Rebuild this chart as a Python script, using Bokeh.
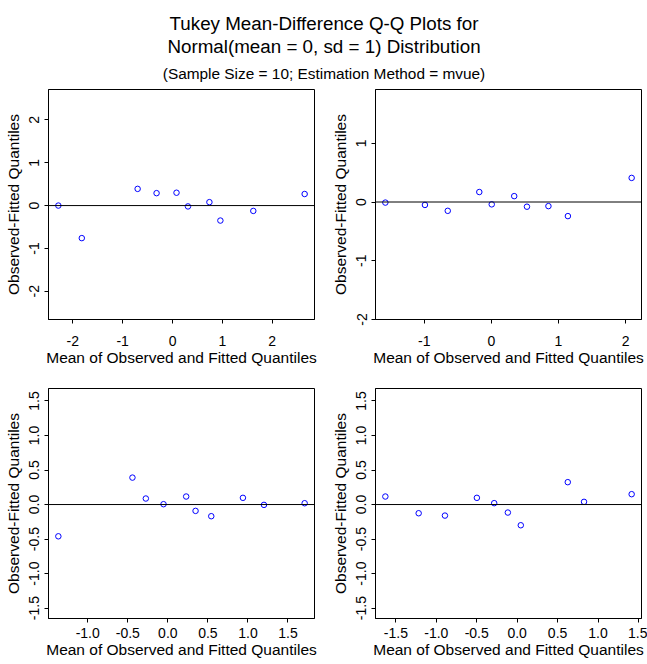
from bokeh.plotting import figure
from bokeh.models import Range1d, FixedTicker, Span, Label
from bokeh.layouts import column, row
from bokeh.embed import file_html
from bokeh.resources import INLINE

FONT = "Liberation Sans"

title_lines = ["Tukey Mean-Difference Q-Q Plots for",
               "Normal(mean = 0, sd = 1) Distribution"]
subtitle = "(Sample Size = 10; Estimation Method = mvue)"
x_label = "Mean of Observed and Fitted Quantiles"
y_label = "Observed-Fitted Quantiles"

# Mean of observed and fitted quantiles (x) and their difference (y), one pair per panel
tl_mean = [-2.29, -1.82, -0.70, -0.32, 0.08, 0.31, 0.74, 0.96, 1.62, 2.65]
tl_diff = [0.00, -0.76, 0.39, 0.29, 0.30, -0.02, 0.08, -0.35, -0.125, 0.27]

tr_mean = [-1.58, -0.99, -0.65, -0.18, 0.005, 0.34, 0.53, 0.85, 1.14, 2.09]
tr_diff = [-0.01, -0.05, -0.15, 0.17, -0.04, 0.10, -0.08, -0.07, -0.24, 0.41]

bl_mean = [-1.367, -0.442, -0.275, -0.054, 0.229, 0.346, 0.542, 0.9375, 1.20, 1.708]
bl_diff = [-0.46, 0.39, 0.087, 0.005, 0.116, -0.092, -0.169, 0.097, -0.005, 0.019]

br_mean = [-1.63, -1.218, -0.893, -0.498, -0.284, -0.115, 0.045, 0.626, 0.827, 1.416]
br_diff = [0.116, -0.126, -0.16, 0.097, 0.02, -0.116, -0.30, 0.324, 0.039, 0.15]

# y limits per panel
tl_ylim = (-2.66, 2.71)
tr_ylim = (-2.0, 1.915)
bottom_ylim = (-1.65, 1.68)

# tick positions and labels
int_ticks_tl_x = [-2, -1, 0, 1, 2]
int_ticks_tl_y = [-2, -1, 0, 1, 2]
int_ticks_tr_x = [-1, 0, 1, 2]
int_ticks_tr_y = [-2, -1, 0, 1]
half_ticks_bl_x = [-1.0, -0.5, 0.0, 0.5, 1.0, 1.5]
half_ticks_br_x = [-1.5, -1.0, -0.5, 0.0, 0.5, 1.0, 1.5]
half_ticks_y = [-1.5, -1.0, -0.5, 0.0, 0.5, 1.0, 1.5]


def int_labels(vals):
    return {v: "%d" % v for v in vals}


def half_labels(vals):
    return {v: "%.1f" % v for v in vals}


def style_axis(ax, ticks, labels):
    ax.ticker = FixedTicker(ticks=ticks)
    ax.major_label_overrides = labels
    ax.minor_tick_line_color = None
    ax.major_tick_in = 0
    ax.major_tick_out = 4
    ax.major_tick_line_color = "black"
    ax.axis_line_color = "black"
    ax.major_label_text_font = FONT
    ax.major_label_text_font_size = "14px"
    ax.major_label_text_color = "black"
    ax.axis_label_text_font = FONT
    ax.axis_label_text_font_size = "15.5px"
    ax.axis_label_text_font_style = "normal"
    ax.axis_label_text_color = "black"


def panel(xs, ys, ylim, xticks, xlabels, yticks, ylabels,
          width, height, b_top, b_bottom, b_right, x_std, x_lab_std):
    lo, hi = min(xs), max(xs)
    pad = 0.04 * (hi - lo)
    p = figure(width=width, height=height, output_backend="svg",
               toolbar_location=None,
               x_range=Range1d(lo - pad, hi + pad),
               y_range=Range1d(*ylim),
               min_border_left=48, min_border_right=b_right,
               min_border_top=b_top, min_border_bottom=b_bottom,
               x_axis_label=x_label, y_axis_label=y_label)
    p.grid.visible = False
    p.outline_line_color = "black"
    p.outline_line_alpha = 1.0
    p.outline_line_width = 1
    p.background_fill_color = "white"
    p.border_fill_color = "white"
    p.add_layout(Span(location=0, dimension="width",
                      line_color="black", line_width=1))
    p.scatter(xs, ys, marker="circle", size=5.5, fill_color=None,
              line_color="blue", line_width=1)
    style_axis(p.xaxis[0], xticks, xlabels)
    style_axis(p.yaxis[0], yticks, ylabels)
    p.xaxis[0].major_label_standoff = x_std
    p.xaxis[0].axis_label_standoff = x_lab_std
    p.yaxis[0].major_label_orientation = "vertical"
    p.yaxis[0].major_label_standoff = 5
    p.yaxis[0].axis_label_standoff = 5
    return p


# heading block
head = figure(width=647, height=85, output_backend="svg",
              toolbar_location=None, x_range=Range1d(0, 1),
              y_range=Range1d(0, 1), min_border=0)
head.axis.visible = False
head.grid.visible = False
head.outline_line_color = None
for txt, y_top, size in [(title_lines[0], 23, "18.8px"),
                         (title_lines[1], 46, "18.8px"),
                         (subtitle, 73, "15.4px")]:
    head.add_layout(Label(x=323.5, y=85 - y_top, x_units="screen",
                          y_units="screen", text=txt, text_align="center",
                          text_baseline="middle", text_font=FONT,
                          text_font_size=size, text_color="black"))

p_tl = panel(tl_mean, tl_diff, tl_ylim,
             int_ticks_tl_x, int_labels(int_ticks_tl_x),
             int_ticks_tl_y, int_labels(int_ticks_tl_y),
             327, 290, 4, 56, 13, 12, 0)
p_tr = panel(tr_mean, tr_diff, tr_ylim,
             int_ticks_tr_x, int_labels(int_ticks_tr_x),
             int_ticks_tr_y, int_labels(int_ticks_tr_y),
             320, 290, 4, 56, 6, 12, 0)
p_bl = panel(bl_mean, bl_diff, bottom_ylim,
             half_ticks_bl_x, half_labels(half_ticks_bl_x),
             half_ticks_y, half_labels(half_ticks_y),
             327, 289, 13, 46, 13, 5, 0)
p_br = panel(br_mean, br_diff, bottom_ylim,
             half_ticks_br_x, half_labels(half_ticks_br_x),
             half_ticks_y, half_labels(half_ticks_y),
             320, 289, 13, 46, 6, 5, 0)

layout = column(head, row(p_tl, p_tr), row(p_bl, p_br))

with open("out.html", "w") as f:
    f.write(file_html(layout, INLINE))
